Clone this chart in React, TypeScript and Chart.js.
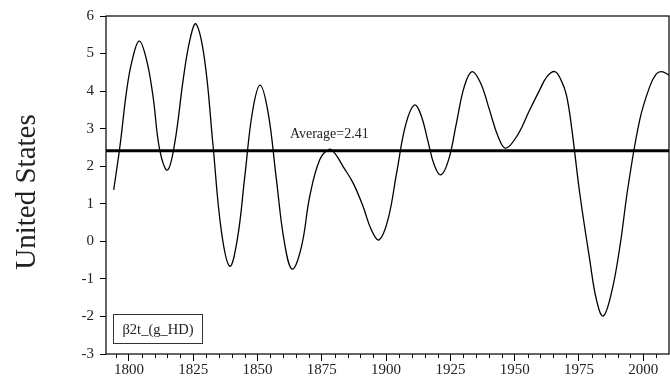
import React, { useEffect, useRef } from 'react';
import { Chart, registerables } from 'chart.js';

Chart.register(...registerables);

const countryLabel = 'United States';
const seriesLabel = 'β2t_(g_HD)';
const averageValue = 2.41;
const averageLabel = 'Average=2.41';

const years = [1794.1, 1796.5, 1799.1, 1801.2, 1804, 1806.8, 1809.4, 1812, 1815, 1817.8, 1821.1, 1823.7, 1826.1, 1829.4, 1832.65, 1835.9, 1839.2, 1842.15, 1845.1, 1848.05, 1851, 1854.1, 1857.25, 1860.4, 1863.5, 1867.1, 1870.3, 1874.2, 1877.9, 1880.1, 1883.3, 1887.2, 1891.1, 1894.3, 1897.3, 1900.7, 1904.15, 1907.6, 1911, 1913.6, 1916.15, 1918.7, 1921.3, 1924.3, 1927.35, 1930.4, 1933.4, 1936.7, 1940.2, 1943.5, 1946.5, 1951.3, 1955.5, 1959.5, 1962.5, 1965.6, 1968, 1970.1, 1972.1, 1975.3, 1979.2, 1981.8, 1984.4, 1987.6, 1990.9, 1994.1, 1998.6, 2002.5, 2005, 2007.1, 2010];
const values = [1.37, 2.52, 4.0, 4.8, 5.33, 4.85, 3.85, 2.43, 1.9, 2.61, 4.3, 5.36, 5.79, 4.85, 2.6, 0.3, -0.66, 0.05, 1.75, 3.45, 4.16, 3.44, 1.71, 0.0, -0.74, -0.14, 1.19, 2.17, 2.45, 2.34, 1.99, 1.55, 0.92, 0.3, 0.04, 0.57, 1.84, 3.1, 3.63, 3.36, 2.7, 2.04, 1.77, 2.17, 3.15, 4.12, 4.52, 4.22, 3.5, 2.8, 2.48, 2.85, 3.45, 4.0, 4.38, 4.52, 4.3, 3.9, 3.05, 1.28, -0.5, -1.56, -1.99, -1.38, -0.14, 1.46, 3.23, 4.12, 4.45, 4.52, 4.43];

const xMin = 1791.1;
const xMax = 2010;
const yMin = -3;
const yMax = 6;
const majorYears = [1800, 1825, 1850, 1875, 1900, 1925, 1950, 1975, 2000];
const minorYears = [1795, 1805, 1810, 1815, 1820, 1830, 1835, 1840, 1845, 1855, 1860, 1865, 1870, 1880, 1885, 1890, 1895, 1905, 1910, 1915, 1920, 1930, 1935, 1940, 1945, 1955, 1960, 1965, 1970, 1980, 1985, 1990, 1995, 2005];
const averageLabelYear = 1862.6;

const FONT = "'Liberation Serif', 'Times New Roman', serif";

const decorPlugin = {
  id: 'decor',
  afterDraw(chart: any) {
    const { ctx, chartArea, scales } = chart;
    const xs = scales.x;
    const ys = scales.y;
    ctx.save();
    // frame
    ctx.strokeStyle = '#000';
    ctx.lineWidth = 1.2;
    ctx.strokeRect(chartArea.left, chartArea.top, chartArea.right - chartArea.left, chartArea.bottom - chartArea.top);
    // minor ticks
    ctx.lineWidth = 1;
    ctx.beginPath();
    for (const yr of minorYears) {
      const px = Math.round(xs.getPixelForValue(yr)) + 0.5;
      ctx.moveTo(px, chartArea.bottom);
      ctx.lineTo(px, chartArea.bottom + 4);
    }
    ctx.stroke();
    // average label
    ctx.fillStyle = '#222';
    ctx.font = `14px ${FONT}`;
    ctx.textBaseline = 'alphabetic';
    ctx.textAlign = 'left';
    ctx.fillText(averageLabel, xs.getPixelForValue(averageLabelYear), ys.getPixelForValue(averageValue) - 13);
    // legend box
    const bx = chartArea.left + 7.5;
    const by = chartArea.bottom - 39.5;
    const bw = 89;
    const bh = 29;
    ctx.fillStyle = '#fff';
    ctx.fillRect(bx, by, bw, bh);
    ctx.strokeStyle = '#333';
    ctx.lineWidth = 1;
    ctx.strokeRect(bx, by, bw, bh);
    ctx.fillStyle = '#222';
    ctx.font = `14.5px ${FONT}`;
    ctx.textAlign = 'center';
    ctx.textBaseline = 'middle';
    ctx.fillText(seriesLabel, bx + bw / 2, by + bh / 2 + 1);
    // y title
    ctx.save();
    ctx.translate(27, (chartArea.top + chartArea.bottom) / 2 + 7);
    ctx.rotate(-Math.PI / 2);
    ctx.font = `29px ${FONT}`;
    ctx.fillStyle = '#222';
    ctx.textAlign = 'center';
    ctx.textBaseline = 'middle';
    ctx.fillText(countryLabel, 0, 0);
    ctx.restore();
    ctx.restore();
  },
};

export default function App() {
  const ref = useRef<HTMLCanvasElement | null>(null);
  useEffect(() => {
    document.body.style.margin = '0';
    const canvas = ref.current;
    if (!canvas) return;
    const chart = new Chart(canvas, {
      type: 'line',
      data: {
        datasets: [
          {
            label: seriesLabel,
            data: years.map((y, i) => ({ x: y, y: values[i] })),
            borderColor: '#000',
            borderWidth: 1.3,
            pointRadius: 0,
            tension: 0.4,
            fill: false,
          },
          {
            label: 'Average',
            data: [
              { x: xMin, y: averageValue },
              { x: xMax, y: averageValue },
            ],
            borderColor: '#000',
            borderWidth: 3,
            pointRadius: 0,
            fill: false,
          },
        ],
      },
      options: {
        responsive: false,
        animation: false,
        events: [],
        layout: { padding: { top: 16, right: 1, left: 0, bottom: 0 } },
        plugins: { legend: { display: false }, tooltip: { enabled: false }, title: { display: false } },
        scales: {
          x: {
            type: 'linear',
            min: xMin,
            max: xMax,
            afterBuildTicks: (s: any) => {
              s.ticks = majorYears.map((v) => ({ value: v }));
            },
            afterFit: (s: any) => {
              s.height = 27;
            },
            border: { display: false },
            grid: { drawOnChartArea: false, drawTicks: true, tickLength: 7, tickColor: '#000', tickWidth: 1 },
            ticks: {
              autoSkip: false,
              maxRotation: 0,
              padding: 0,
              color: '#222',
              font: { family: FONT, size: 15 },
              callback: (v: any) => String(v),
            },
          },
          y: {
            type: 'linear',
            min: yMin,
            max: yMax,
            afterFit: (s: any) => {
              s.width = 106;
            },
            border: { display: false },
            grid: { drawOnChartArea: false, drawTicks: true, tickLength: 6, tickColor: '#000', tickWidth: 1 },
            ticks: {
              stepSize: 1,
              padding: 6,
              color: '#222',
              font: { family: FONT, size: 15 },
            },
          },
        },
      },
      plugins: [decorPlugin],
    } as any);
    return () => chart.destroy();
  }, []);
  return <canvas ref={ref} width={670} height={381} style={{ display: 'block' }} />;
}
